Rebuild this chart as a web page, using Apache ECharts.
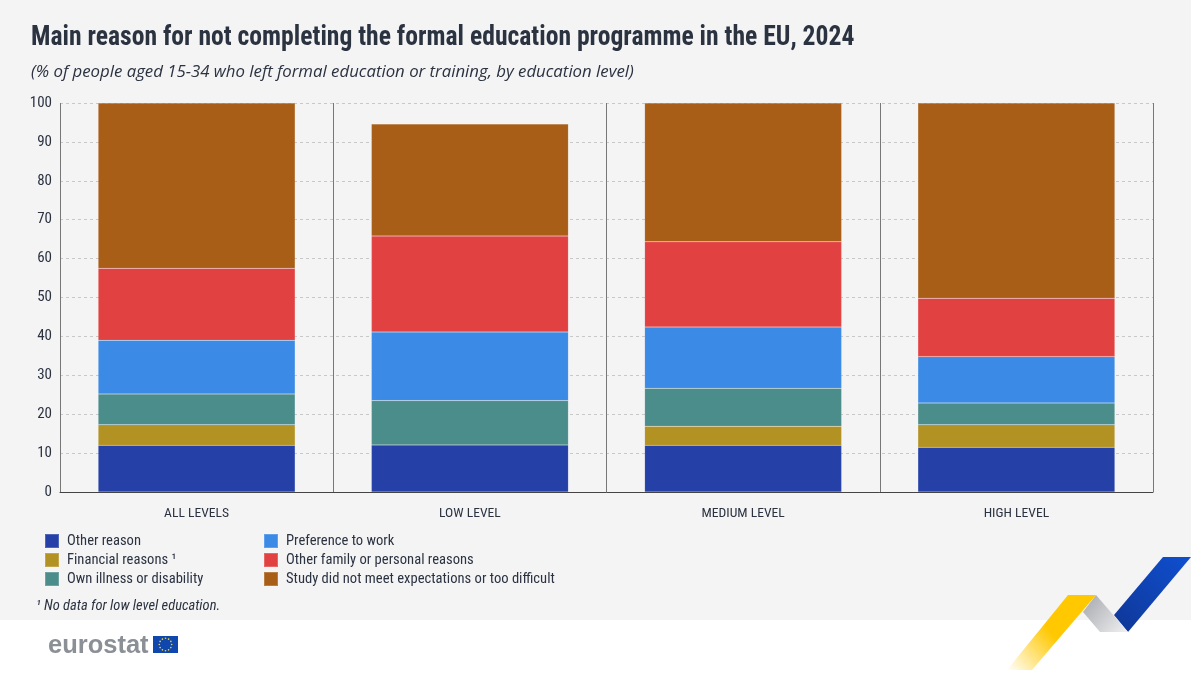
<!DOCTYPE html>
<html><head><meta charset="utf-8">
<style>html,body{margin:0;padding:0;background:#fff}#c{width:1200px;height:676px}</style>
<script src="https://cdn.jsdelivr.net/npm/echarts@6/dist/echarts.min.js"></script>
</head><body><div id="c"></div>
<script>
const categories = ['ALL LEVELS','LOW LEVEL','MEDIUM LEVEL','HIGH LEVEL'];
const otherReason = [12.0,12.1,12.0,11.5];
const financial = [5.3,null,4.9,5.8];
const illness = [7.9,11.4,9.8,5.6];
const work = [13.8,17.6,15.7,11.9];
const family = [18.5,24.7,21.9,15.0];
const study = [42.5,28.8,35.7,50.2];
const seriesNames = ['Other reason','Financial reasons \u00b9','Own illness or disability','Preference to work','Other family or personal reasons','Study did not meet expectations or too difficult'];
const seriesValues = [otherReason,financial,illness,work,family,study];
const colors = ['#2541a8','#b39224','#4b8d8b','#3a8ae6','#e24141','#a95e17'];
const titleText = 'Main reason for not completing the formal education programme in the EU, 2024';
const subtitleText = '(% of people aged 15-34 who left formal education or training, by education level)';
const footnoteText = '\u00b9 No data for low level education.';
const narrow = '"Liberation Sans Narrow","Roboto Condensed","Liberation Sans",sans-serif';
const ink = '#2b3240';

const stars = [];
for (let i=0;i<12;i++){const a=i*Math.PI/6;stars.push({type:'circle',z:5,shape:{cx:165.5+6.2*Math.cos(a),cy:644.5+6.2*Math.sin(a),r:0.8},style:{fill:'#ffd617'}});}

const chart = echarts.init(document.getElementById('c'),null,{renderer:'canvas'});
chart.setOption({
 animation:false,
 backgroundColor:'#fff',
 grid:{left:60,right:47,top:103,bottom:184,containLabel:false},
 legend:[
  {left:39,top:528,orient:'vertical',itemWidth:14,itemHeight:14,itemGap:3,icon:'rect',data:seriesNames.slice(0,3),
   textStyle:{fontFamily:narrow,fontSize:14.6,lineHeight:14,color:ink,padding:[0,0,0,3]}},
  {left:258,top:528,orient:'vertical',itemWidth:14,itemHeight:14,itemGap:3,icon:'rect',data:seriesNames.slice(3),
   textStyle:{fontFamily:narrow,fontSize:14.6,lineHeight:14,color:ink,padding:[0,0,0,3]}}
 ],
 xAxis:{type:'category',data:categories,z:10,
  axisLine:{lineStyle:{color:'#444',width:1}},axisTick:{show:false},
  splitLine:{show:true,lineStyle:{color:'#777',width:1}},
  axisLabel:{margin:15,fontFamily:narrow,fontSize:13.6,color:ink}},
 yAxis:{type:'value',min:0,max:100,interval:10,
  axisLine:{show:false},axisTick:{show:false},
  splitLine:{show:true,lineStyle:{color:'#c8c8c8',type:[3,3],width:1}},
  axisLabel:{margin:8,fontFamily:narrow,fontSize:15,color:ink}},
 series:seriesNames.map((n,i)=>({name:n,type:'bar',stack:'t',barWidth:197,data:seriesValues[i],
  itemStyle:{color:colors[i],borderColor:'rgba(255,255,255,0.2)',borderWidth:0.5}})),
 graphic:[
  {type:'rect',z:-10,silent:true,shape:{x:0,y:0,width:1191,height:620},style:{fill:'#f4f4f5'}},
  {type:'text',x:31,y:24,scaleX:0.915,style:{text:titleText,font:'bold 28px '+narrow,fill:ink}},
  {type:'text',x:31,y:64,style:{text:subtitleText,font:'italic 16.8px "Open Sans",sans-serif',fill:ink}},
  {type:'text',x:36,y:599,style:{text:footnoteText,font:'italic 14.5px '+narrow,fill:ink}},
  {type:'text',x:48,y:633,style:{text:'eurostat',font:'bold 25.5px "Liberation Sans",sans-serif',fill:'#8b8f96'}},
  {type:'rect',shape:{x:153,y:636,width:25,height:17},style:{fill:'#0f47af'}},
  ...stars,
  {type:'polygon',shape:{points:[[1163,557],[1191,557],[1128,632],[1114,615]]},
   style:{fill:new echarts.graphic.LinearGradient(1,0,0,1,[{offset:0,color:'#0f4fd0'},{offset:1,color:'#0f3796'}])}},
  {type:'polygon',shape:{points:[[1096,595],[1128,632],[1100,632],[1083,612]]},
   style:{fill:new echarts.graphic.LinearGradient(0,0,1,1,[{offset:0,color:'#a5a7ad'},{offset:1,color:'#f1f1f2'}])}},
  {type:'polygon',shape:{points:[[1068,595],[1096,595],[1032,670],[1007,670]]},
   style:{fill:new echarts.graphic.LinearGradient(1,0,0,1,[{offset:0,color:'#ffc800'},{offset:0.5,color:'#ffc800'},{offset:1,color:'rgba(255,200,0,0)'}])}}
 ]
});
</script></body></html>
